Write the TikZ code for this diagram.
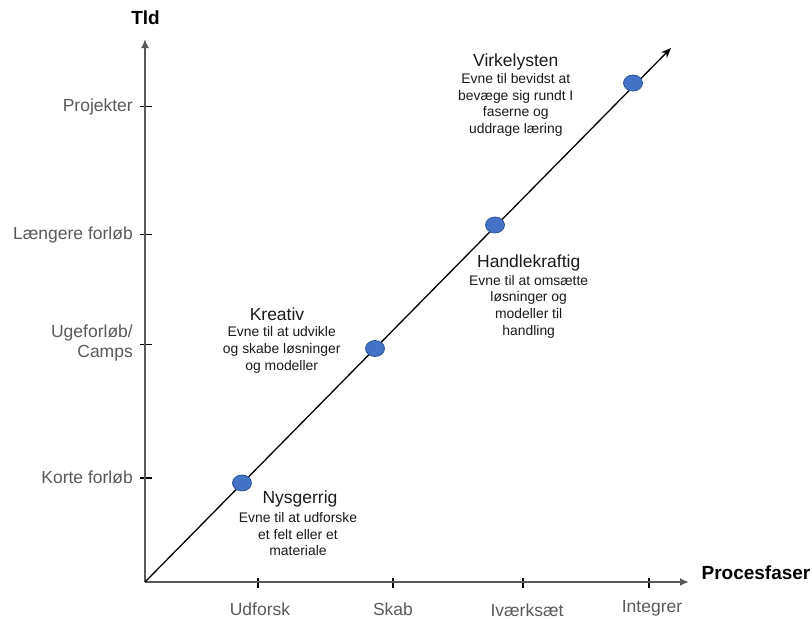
\documentclass[tikz,border=0pt]{standalone}
\usepackage{fontspec}
\setmainfont{Liberation Sans}
\usetikzlibrary{arrows.meta,shapes.geometric}
\definecolor{axisgray}{HTML}{595959}
\definecolor{dotblue}{HTML}{4472C4}
\definecolor{dotedge}{HTML}{2F5597}
\definecolor{txt}{HTML}{1A1A1A}
\begin{document}
\begin{tikzpicture}[x=1pt,y=-1pt,
 axis/.style={axisgray,line width=2pt,-{Latex[length=9pt,width=8pt]}},
 tickmark/.style={black,line width=1.2pt},
 ylab/.style={axisgray,font=\fontsize{17.5}{20}\selectfont,anchor=east,inner sep=0,align=right},
 xlab/.style={axisgray,font=\fontsize{17.5}{20}\selectfont,inner sep=0},
 axtitle/.style={black,font=\bfseries\fontsize{19}{22}\selectfont,inner sep=0},
 stitle/.style={txt,font=\fontsize{17.5}{20}\selectfont,inner sep=0,anchor=base},
 sbody/.style={txt,font=\fontsize{13.9}{16.7}\selectfont,inner sep=0,anchor=north,align=center},
 dot/.style={draw=dotedge,fill=dotblue,line width=0.8pt,ellipse,minimum width=19pt,minimum height=16pt,inner sep=0}
]
\useasboundingbox (0,0) rectangle (812,619);
\coordinate (O) at (145,582);
\coordinate (ytop) at (145,39);
\coordinate (xend) at (689,582);
\coordinate (dtip) at (671,48);
% ticks
\foreach \x/\n in {258/a,393/b,523/c,649/d}{
  \coordinate (xt\n) at (\x,582);
  \draw[tickmark] ([yshift=4pt]xt\n) -- ([yshift=-6pt]xt\n);
}
\foreach \y/\n in {106.5/a,234.5/b,344.5/c,478/d}{
  \coordinate (yt\n) at (145,\y);
  \draw[tickmark] ([xshift=-5pt]yt\n) -- ([xshift=7pt]yt\n);
}
\draw[axis] (O) -- (ytop);
\draw[axis] (O) -- (xend);
\draw[line width=1.3pt,black,-{Stealth[length=10pt,width=8pt]}] (O) -- (dtip);
% axis titles
\node[axtitle] (tid) at (145.5,18) {Tld};
\node[axtitle] (proc) at (756,573) {Procesfaser};
% y labels
\node[ylab] (l1) at (133,106.5) {Projekter};
\node[ylab] (l2) at (133,234.5) {Længere forløb};
\node[ylab] (l3) at (133,343) {Ugeforløb/\\Camps};
\node[ylab] (l4) at (133,477) {Korte forløb};
% x labels
\node[xlab] (x1) at (260,609) {Udforsk};
\node[xlab] (x2) at (393,609) {Skab};
\node[xlab] (x3) at (527,610) {Iværksæt};
\node[xlab] (x4) at (652,608) {Integrer};
% dots
\node[dot] (d1) at (242,483) {};
\node[dot] (d2) at (375,348.5) {};
\node[dot] (d3) at (495,225) {};
\node[dot] (d4) at (633,83) {};
% texts
\node[stitle] (t1) at (300,503.5) {Nysgerrig};
\node[sbody] (b1) at (298,512.2) {Evne til at udforske\\et felt eller et\\materiale};
\node[stitle] (t2) at (277,320.7) {Kreativ};
\node[sbody] (b2) at (281.7,326.6) {Evne til at udvikle\\og skabe løsninger\\og modeller};
\node[stitle] (t3) at (528.7,267.3) {Handlekraftig};
\node[sbody] (b3) at (528.7,274.8) {Evne til at omsætte\\løsninger og\\modeller til\\handling};
\node[stitle] (t4) at (515.8,66) {Virkelysten};
\node[sbody] (b4) at (515.8,73.2) {Evne til bevidst at\\bevæge sig rundt I\\faserne og\\uddrage læring};
\end{tikzpicture}
\end{document}
